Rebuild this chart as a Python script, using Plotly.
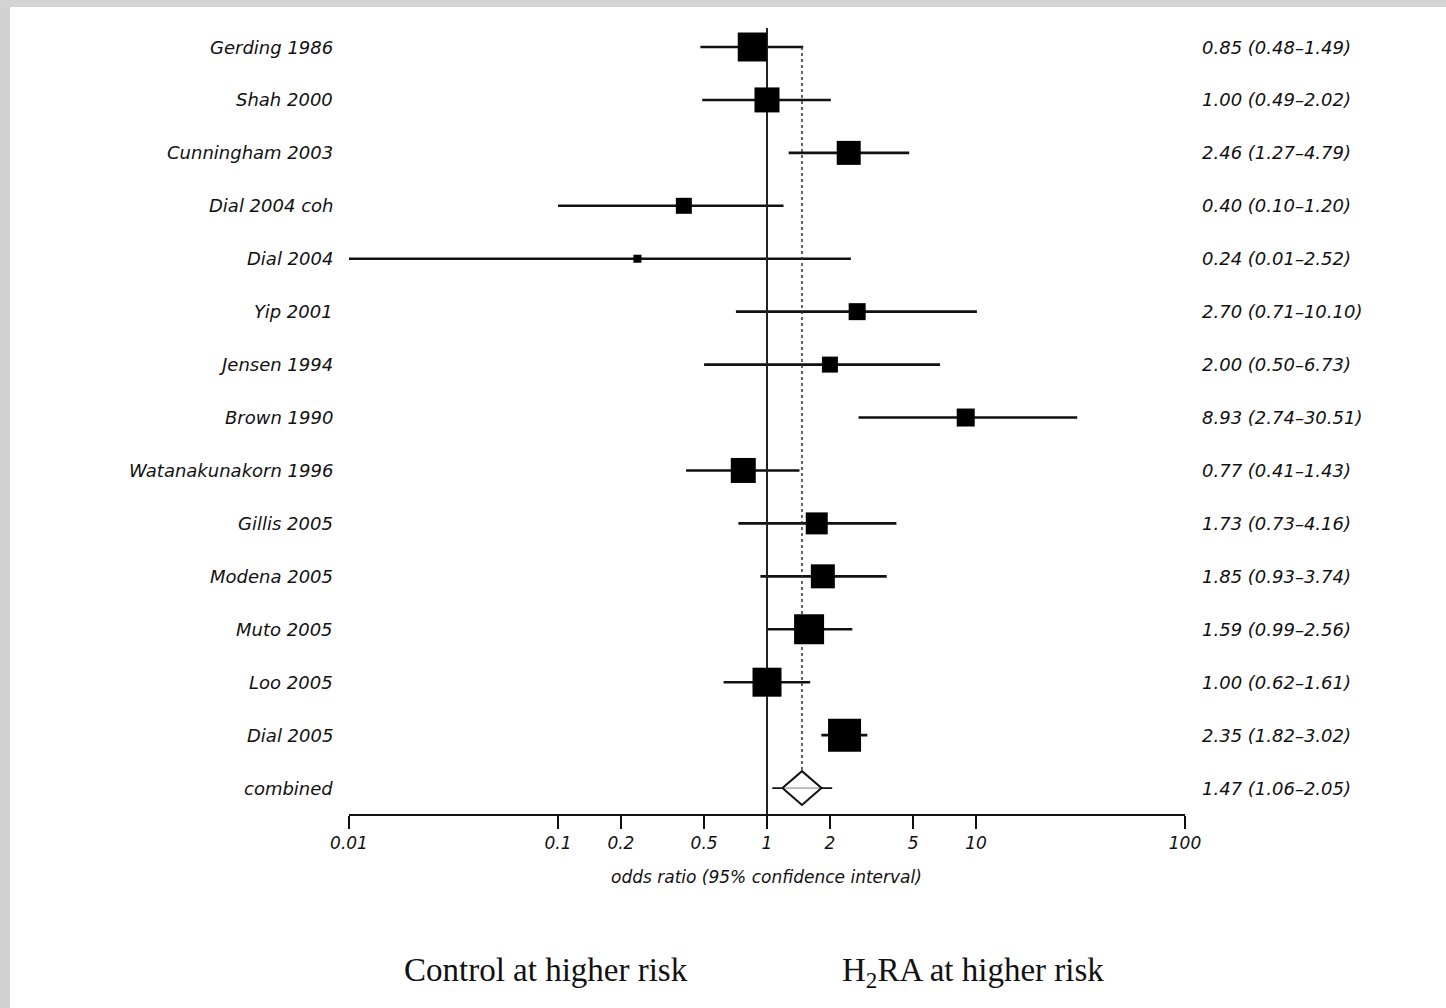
import plotly.graph_objects as go

# ---------------- data ----------------
studies = ["Gerding 1986", "Shah 2000", "Cunningham 2003", "Dial 2004 coh", "Dial 2004",
           "Yip 2001", "Jensen 1994", "Brown 1990", "Watanakunakorn 1996", "Gillis 2005",
           "Modena 2005", "Muto 2005", "Loo 2005", "Dial 2005", "combined"]
odds_ratio = [0.85, 1.00, 2.46, 0.40, 0.24, 2.70, 2.00, 8.93, 0.77, 1.73, 1.85, 1.59, 1.00, 2.35, 1.47]
ci_low = [0.48, 0.49, 1.27, 0.10, 0.01, 0.71, 0.50, 2.74, 0.41, 0.73, 0.93, 0.99, 0.62, 1.82, 1.06]
ci_high = [1.49, 2.02, 4.79, 1.20, 2.52, 10.10, 6.73, 30.51, 1.43, 4.16, 3.74, 2.56, 1.61, 3.02, 2.05]
ci_text = ["0.85 (0.48\u20131.49)", "1.00 (0.49\u20132.02)", "2.46 (1.27\u20134.79)", "0.40 (0.10\u20131.20)",
           "0.24 (0.01\u20132.52)", "2.70 (0.71\u201310.10)", "2.00 (0.50\u20136.73)", "8.93 (2.74\u201330.51)",
           "0.77 (0.41\u20131.43)", "1.73 (0.73\u20134.16)", "1.85 (0.93\u20133.74)", "1.59 (0.99\u20132.56)",
           "1.00 (0.62\u20131.61)", "2.35 (1.82\u20133.02)", "1.47 (1.06\u20132.05)"]
study_weight_px = [29, 25, 24, 16, 8, 17, 16, 18, 25, 22, 24, 30, 29, 33]
tick_vals = [0.01, 0.1, 0.2, 0.5, 1, 2, 5, 10, 100]
tick_text = ["0.01", "0.1", "0.2", "0.5", "1", "2", "5", "10", "100"]

n_st = len(studies) - 1
rows = list(range(len(studies)))
comb = n_st

fig = go.Figure()

# CI lines for studies
cx, cy = [], []
for i in range(n_st):
    cx += [ci_low[i], ci_high[i], None]
    cy += [rows[i], rows[i], None]
fig.add_trace(go.Scatter(x=cx, y=cy, mode="lines", line=dict(color="#111111", width=2.6),
                         hoverinfo="skip", showlegend=False, cliponaxis=False))

# line of no effect
fig.add_trace(go.Scatter(x=[1, 1], y=[-0.36, 14.49], mode="lines",
                         line=dict(color="#222222", width=2), hoverinfo="skip", showlegend=False))

# dotted line at pooled estimate
fig.add_trace(go.Scatter(x=[odds_ratio[comb], odds_ratio[comb]], y=[0, comb - 0.32], mode="lines",
                         line=dict(color="#333333", width=1.5, dash="dot"),
                         hoverinfo="skip", showlegend=False))

# combined CI line
fig.add_trace(go.Scatter(x=[ci_low[comb], ci_high[comb]], y=[comb, comb], mode="lines",
                         line=dict(color="#111111", width=1.8), hoverinfo="skip", showlegend=False))

# diamond
c = odds_ratio[comb]
f = 1.24
fig.add_trace(go.Scatter(x=[c / f, c, c * f, c, c / f], y=[comb, comb - 0.32, comb, comb + 0.32, comb],
                         mode="lines", fill="toself", fillcolor="rgba(255,255,255,0.7)",
                         line=dict(color="#111111", width=2), hoverinfo="skip", showlegend=False))

# study squares
fig.add_trace(go.Scatter(x=odds_ratio[:n_st], y=rows[:n_st], mode="markers", opacity=1,
                         marker=dict(symbol="square", size=study_weight_px, color="#000000",
                                     opacity=1, line=dict(width=0)),
                         hoverinfo="skip", showlegend=False))

label_font = dict(family="DejaVu Sans", size=18, color="#111111", style="italic")

for i in rows:
    fig.add_annotation(x=-0.0167, xref="paper", y=rows[i], yref="y", text=studies[i],
                       showarrow=False, xanchor="right", yanchor="middle", font=label_font)
    fig.add_annotation(x=1.018, xref="paper", y=rows[i], yref="y", text=ci_text[i],
                       showarrow=False, xanchor="left", yanchor="middle", font=label_font)

fig.add_annotation(x=0.499, xref="paper", y=-0.0793, yref="paper",
                   text="odds ratio (95% confidence interval)", showarrow=False,
                   xanchor="center", yanchor="middle",
                   font=dict(family="DejaVu Sans", size=17, color="#111111", style="italic"))

# gray scan borders
W, H = 1446, 1008
L, R, T, B = 349, 261, 20, 194
pw, ph = W - L - R, H - T - B
def px(xp):
    return (xp - L) / pw
def py(yp):
    return (H - B - yp) / ph

serif = dict(family="Liberation Serif", size=33, color="#111111")
fig.add_annotation(x=px(546), xref="paper", y=py(970), yref="paper", text="Control at higher risk",
                   showarrow=False, xanchor="center", yanchor="middle", font=serif)
fig.add_annotation(x=px(973), xref="paper", y=py(972), yref="paper", text="H<sub>2</sub>RA at higher risk",
                   showarrow=False, xanchor="center", yanchor="middle", font=serif)

fig.add_shape(type="rect", xref="paper", yref="paper", x0=px(0), x1=px(10), y0=py(H), y1=py(0),
              fillcolor="#d0d0d0", line=dict(width=0), layer="above")
fig.add_shape(type="rect", xref="paper", yref="paper", x0=px(0), x1=px(W), y0=py(7), y1=py(0),
              fillcolor="#d4d4d4", line=dict(width=0), layer="above")

fig.update_layout(
    width=W, height=H,
    margin=dict(l=L, r=R, t=T, b=B, pad=0),
    paper_bgcolor="white", plot_bgcolor="white",
    showlegend=False,
    xaxis=dict(type="log", range=[-2, 2], showline=True, linecolor="#111111", linewidth=2,
               ticks="outside", ticklen=13, tickwidth=2, tickcolor="#111111",
               tickvals=tick_vals, ticktext=tick_text, showgrid=False, zeroline=False,
               tickfont=dict(family="DejaVu Sans", size=17, color="#111111", style="italic"),
               fixedrange=True),
    yaxis=dict(range=[14.49, -0.51], showline=False, showticklabels=False, ticks="",
               showgrid=False, zeroline=False, fixedrange=True),
)

fig.write_html("out.html")
